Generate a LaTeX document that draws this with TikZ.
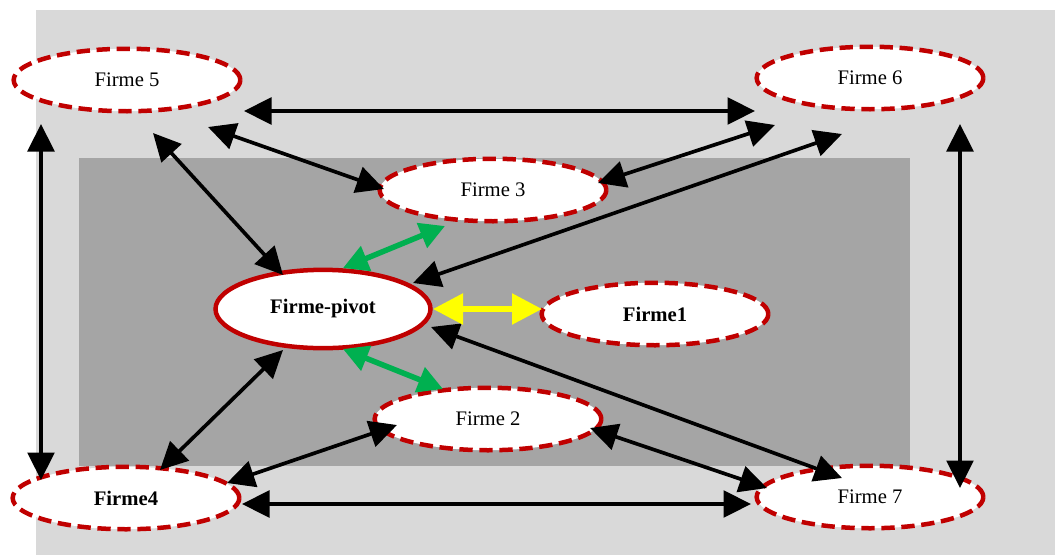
\documentclass[tikz,border=0pt]{standalone}
\usepackage{fontspec}
\setmainfont{Liberation Serif}
\usetikzlibrary{shapes.geometric,arrows.meta,calc}
\definecolor{rougefirme}{HTML}{C00000}
\definecolor{vertlien}{HTML}{00B050}
\definecolor{jaunelien}{HTML}{FFFF00}
\definecolor{grisclair}{HTML}{D9D9D9}
\definecolor{grisfonce}{HTML}{A5A5A5}
\tikzset{
  firme/.style={ellipse, draw=rougefirme, fill=white, line width=2.7pt,
    dash pattern=on 8pt off 4pt, minimum width=136pt, minimum height=37.5pt,
    inner sep=0pt, font=\fontsize{12.4}{14}\selectfont},
  pivot/.style={firme, solid, minimum width=129pt, minimum height=47pt},
  lien/.style={line width=2.2pt, {Triangle[length=16.5pt,width=16pt]}-{Triangle[length=16.5pt,width=16pt]}},
  lienvert/.style={line width=3.3pt, draw=vertlien, {Triangle[length=15pt,width=15.5pt]}-{Triangle[length=15pt,width=15.5pt]}},
  lienjaune/.style={line width=3.3pt, draw=jaunelien, {Triangle[length=18pt,width=18pt]}-{Triangle[length=18pt,width=18pt]}}
}
\begin{document}
\begin{tikzpicture}[x=0.6pt,y=-0.6pt]
                \useasboundingbox (0,0) rectangle (1055,555);
                % fonds
                \fill[grisclair] (36,10) rectangle (1055,555);
                \fill[grisfonce] (79,158) rectangle (910,466);
                % firmes
                \node[firme] (f5) at (127,80) {Firme 5};
                \node[firme] (f6) at (870,78) {Firme 6};
                \node[firme] (f3) at (493,190) {Firme 3};
                \node[pivot] (pivot) at (323,309) {\textbf{Firme-pivot}};
                \node[firme] (f1) at (655,314) {\textbf{Firme1}};
                \node[firme] (f2) at (488,419) {Firme 2};
                \node[firme] (f4) at (126,498) {\textbf{Firme4}};
                \node[firme] (f7) at (870,497) {Firme 7};
                % liens externes
                \draw[lien] ($(f5)+(117,31)$) -- ($(f6)+(-115,33)$);
                \draw[lien] ($(f5)+(81,47)$) -- ($(f3)+(-109,-1)$);
                \draw[lien] ($(f3)+(105,-7)$) -- ($(f6)+(-95,47)$);
                \draw[lien] ($(f5)+(26,53)$) -- ($(pivot)+(-40,-34)$);
                \draw[lien] ($(pivot)+(90,-26)$) -- ($(f6)+(-28,56)$);
                \draw[lien] ($(f5)+(-86,44)$) -- ($(f4)+(-85,-18)$);
                \draw[lien] ($(f6)+(90,46)$) -- ($(f7)+(90,-9)$);
                \draw[lien] ($(f4)+(116,6)$) -- ($(f7)+(-119,7)$);
                \draw[lien] ($(f4)+(34,-28)$) -- ($(pivot)+(-40,41)$);
                \draw[lien] ($(f4)+(101,-15)$) -- ($(f2)+(-91,6)$);
                \draw[lien] ($(f2)+(102,9)$) -- ($(f7)+(-103,-9)$);
                \draw[lien] ($(pivot)+(108,18)$) -- ($(f7)+(-28,-19)$);
                % liens de la firme-pivot
                \draw[lienvert] ($(pivot)+(20,-41)$) -- ($(f3)+(-48,36)$);
                \draw[lienvert] ($(pivot)+(20,40)$) -- ($(f2)+(-45,-30)$);
                \draw[lienjaune] ($(pivot)+(110,0)$) -- ($(f1)+(-113,-5)$);
            \end{tikzpicture}
\end{document}
